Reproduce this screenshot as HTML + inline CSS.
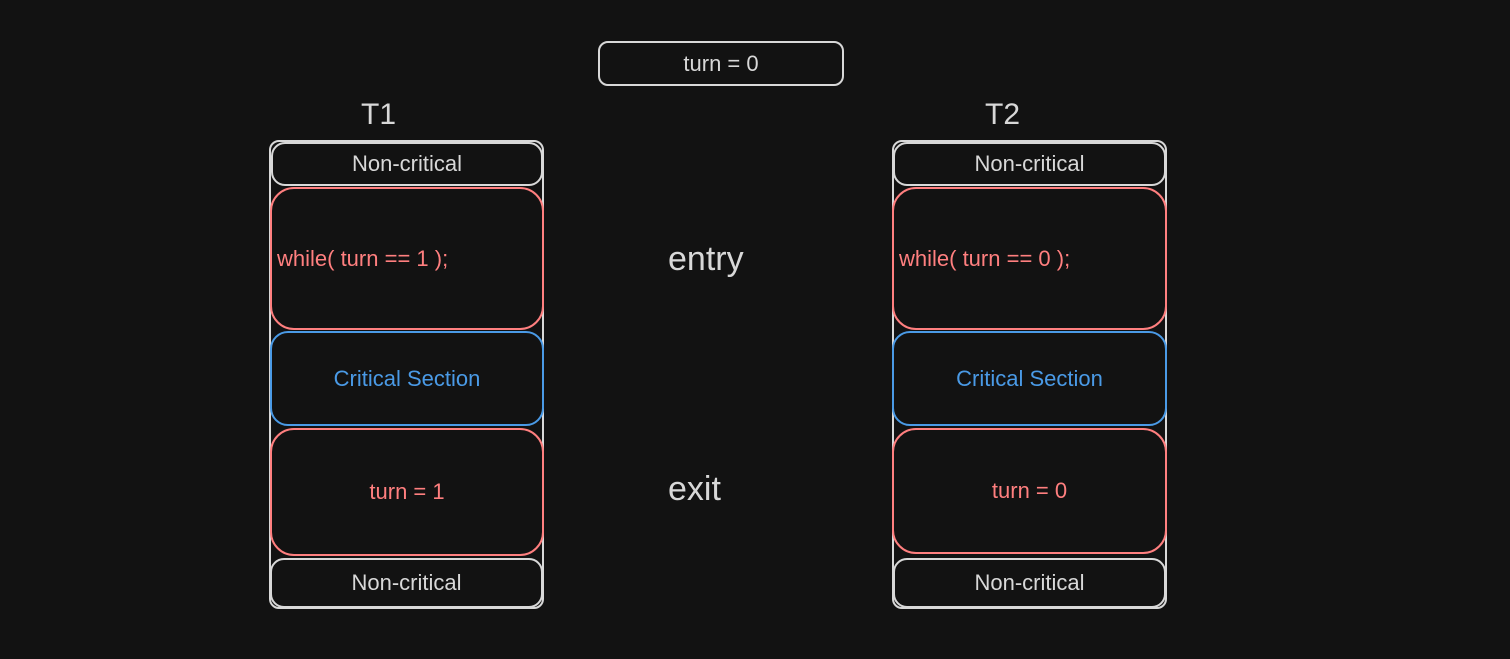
<!DOCTYPE html>
<html><head><meta charset="utf-8"><style>
html,body{margin:0;padding:0;background:#121212;}
body{width:1510px;height:659px;position:relative;overflow:hidden;font-family:"Liberation Sans",sans-serif;}
.b{position:absolute;box-sizing:border-box;border:2px solid #d8d8d8;border-radius:14px;display:flex;align-items:center;justify-content:center;color:#d8d8d8;font-size:22px;}
.r{border-color:#ff7f7f;color:#ff7f7f;border-radius:24px;}
.bl{border-color:#4a9ae6;color:#4a9ae6;border-radius:18px;}
.t{position:absolute;color:#d8d8d8;}
</style></head><body>
<div class="b" style="left:598px;top:41px;width:246px;height:45px;border-radius:10px;">turn = 0</div>
<div class="t" style="left:361px;top:98px;font-size:30px;">T1</div>
<div class="t" style="left:985px;top:98px;font-size:30px;">T2</div>
<div class="t" style="left:668px;top:240px;font-size:34px;">entry</div>
<div class="t" style="left:668px;top:470px;font-size:34px;">exit</div>

<div class="b" style="left:269px;top:140px;width:275px;height:469px;border-radius:10px;"></div>
<div class="b" style="left:271px;top:142px;width:272px;height:44px;">Non-critical</div>
<div class="b r" style="left:270px;top:187px;width:274px;height:143px;justify-content:flex-start;padding-left:5px;">while( turn == 1 );</div>
<div class="b bl" style="left:270px;top:331px;width:274px;height:95px;">Critical Section</div>
<div class="b r" style="left:270px;top:428px;width:274px;height:128px;">turn = 1</div>
<div class="b" style="left:270px;top:558px;width:273px;height:50px;">Non-critical</div>

<div class="b" style="left:892px;top:140px;width:275px;height:469px;border-radius:10px;"></div>
<div class="b" style="left:893px;top:142px;width:273px;height:44px;">Non-critical</div>
<div class="b r" style="left:892px;top:187px;width:275px;height:143px;justify-content:flex-start;padding-left:5px;">while( turn == 0 );</div>
<div class="b bl" style="left:892px;top:331px;width:275px;height:95px;">Critical Section</div>
<div class="b r" style="left:892px;top:428px;width:275px;height:126px;">turn = 0</div>
<div class="b" style="left:893px;top:558px;width:273px;height:50px;">Non-critical</div>
</body></html>
